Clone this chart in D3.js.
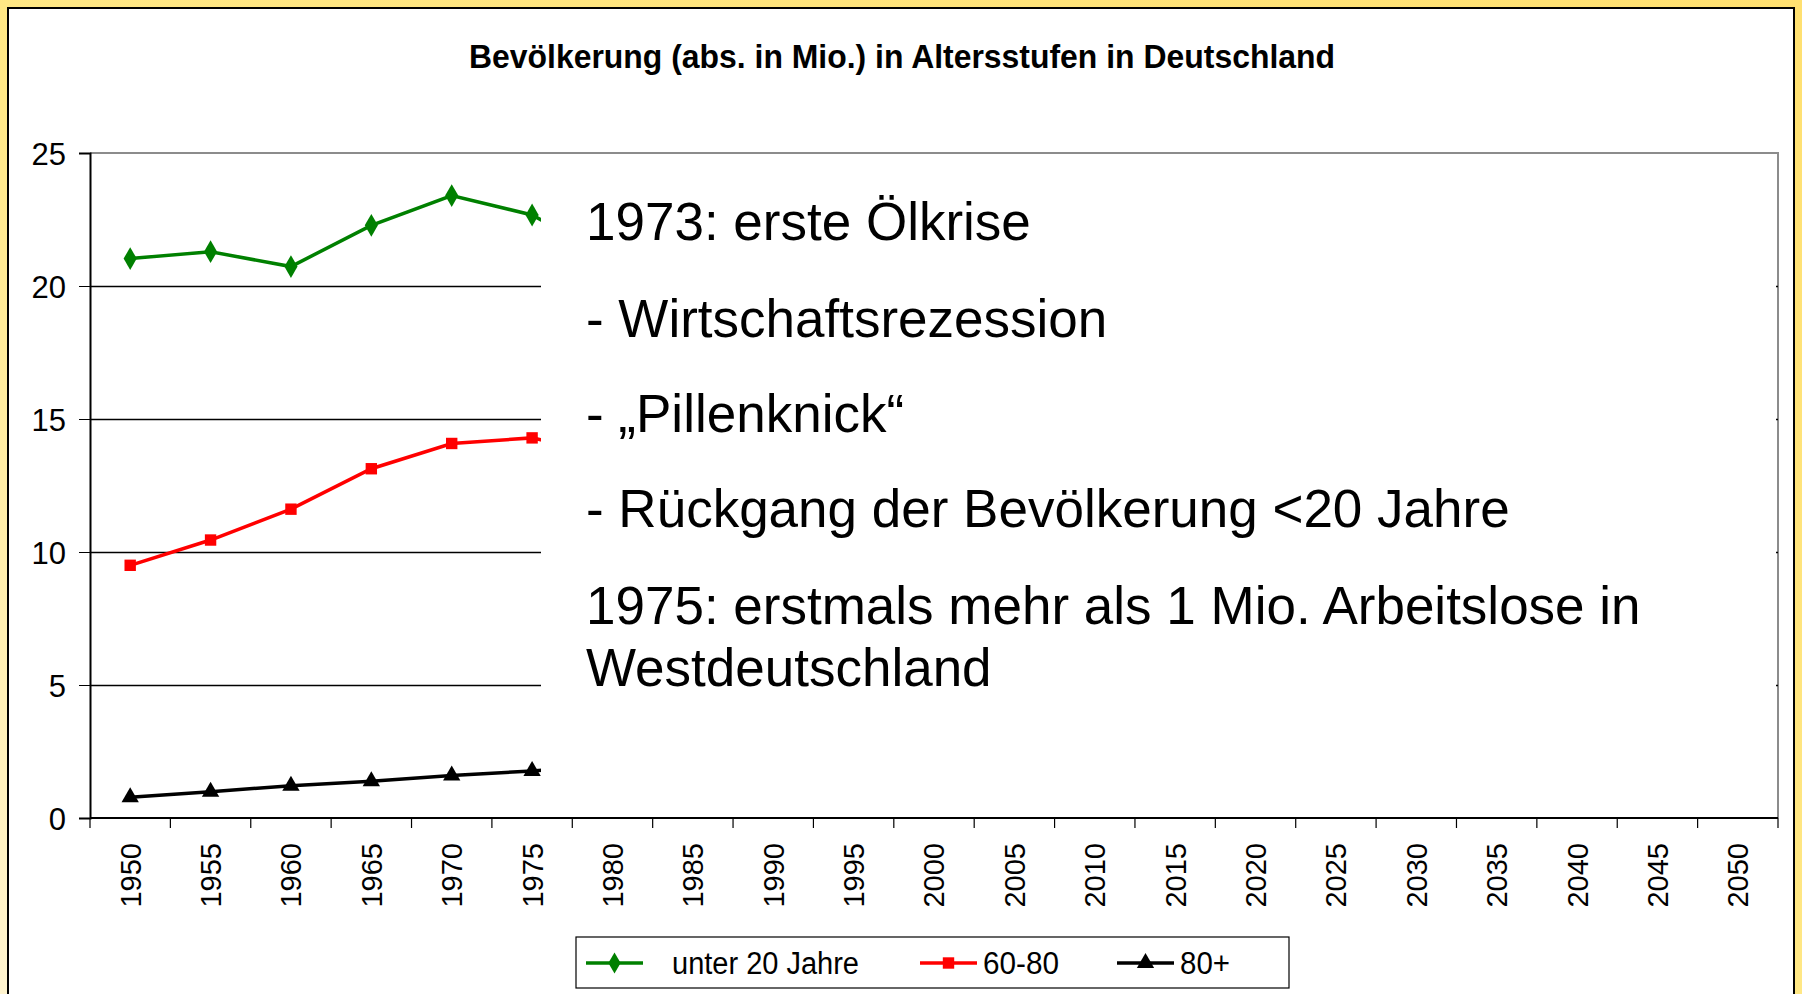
<!DOCTYPE html>
<html>
<head>
<meta charset="utf-8">
<script src="https://cdn.jsdelivr.net/npm/d3@7"></script>
<style>
  html, body { margin: 0; padding: 0; background: #fff; }
  svg { display: block; font-family: "Liberation Sans", Arial, sans-serif; }
</style>
</head>
<body>
<div id="chart"></div>
<script>
/* global d3 */

var WIDTH = 1802;
var HEIGHT = 994;

// categories: every 5 years from 1950 to 2050
var years = ['1950', '1955', '1960', '1965', '1970', '1975', '1980', '1985', '1990', '1995',
  '2000', '2005', '2010', '2015', '2020', '2025', '2030', '2035', '2040', '2045', '2050'];

// values in millions (1980 only shows as a stub under the text box)
var dataYears = ['1950', '1955', '1960', '1965', '1970', '1975', '1980'];
var under20 = [21.03, 21.29, 20.73, 22.28, 23.40, 22.67, 21.0];
var age60to80 = [9.50, 10.45, 11.61, 13.13, 14.08, 14.29, 13.6];
var age80plus = [0.78, 0.99, 1.21, 1.38, 1.60, 1.77, 2.0];

var yTicks = [0, 5, 10, 15, 20, 25];

var seriesNames = ['unter 20 Jahre', '60-80', '80+'];
var seriesColors = ['#008000', '#ff0000', '#000000'];
var seriesSymbols = [d3.symbolDiamond, d3.symbolSquare, d3.symbolTriangle];

var notes = [
  '1973: erste Ölkrise',
  '- Wirtschaftsrezession',
  '- \u201EPillenknick\u201C',
  '- Rückgang der Bevölkerung <20 Jahre',
  '1975: erstmals mehr als 1 Mio. Arbeitslose in',
  'Westdeutschland'
];

var margin = { left: 90, right: 24, top: 153, bottom: 176 };

var svg = d3.select('#chart')
  .append('svg')
  .attr('width', WIDTH)
  .attr('height', HEIGHT);

// yellow frame with gradient
var defs = svg.append('defs');
var grad = defs.append('linearGradient')
  .attr('id', 'frame')
  .attr('x1', '100%').attr('y1', '0%')
  .attr('x2', '0%').attr('y2', '100%');
grad.append('stop').attr('offset', '0%').attr('stop-color', '#ffe070');
grad.append('stop').attr('offset', '55%').attr('stop-color', '#ffe887');
grad.append('stop').attr('offset', '100%').attr('stop-color', '#fff4cf');

svg.append('rect')
  .attr('width', WIDTH)
  .attr('height', HEIGHT)
  .attr('fill', 'url(#frame)');

svg.append('rect')
  .attr('x', 8)
  .attr('y', 8)
  .attr('width', WIDTH - 16)
  .attr('height', HEIGHT)
  .attr('fill', '#fff')
  .attr('stroke', '#000')
  .attr('stroke-width', 2);

svg.append('text')
  .attr('x', 902)
  .attr('y', 68)
  .attr('text-anchor', 'middle')
  .attr('font-weight', 'bold')
  .attr('font-size', '33px')
  .attr('textLength', 866)
  .attr('lengthAdjust', 'spacingAndGlyphs')
  .text('Bevölkerung (abs. in Mio.) in Altersstufen in Deutschland');

var x = d3.scaleBand()
  .domain(years)
  .range([margin.left, WIDTH - margin.right])
  .padding(0);

var y = d3.scaleLinear()
  .domain([0, 25])
  .range([HEIGHT - margin.bottom, margin.top]);

var plotRight = WIDTH - margin.right;
var textBoxLeft = 541;

// plot frame (gray top and right)
svg.append('path')
  .attr('d', 'M' + margin.left + ',' + y(25) + 'H' + plotRight + 'V' + y(0))
  .attr('fill', 'none')
  .attr('stroke', '#8c8c8c')
  .attr('stroke-width', 2);

// gridlines
svg.append('g')
  .selectAll('line')
  .data(yTicks.filter(function(d) { return d > 0 && d < 25; }))
  .enter()
  .append('line')
  .attr('x1', margin.left)
  .attr('x2', plotRight)
  .attr('y1', function(d) { return Math.round(y(d)) + 0.5; })
  .attr('y2', function(d) { return Math.round(y(d)) + 0.5; })
  .attr('stroke', '#000')
  .attr('stroke-width', 1.3);

// series
var series = [under20, age60to80, age80plus];
var lineGen = d3.line()
  .x(function(d, i) { return x(dataYears[i]) + x.bandwidth() / 2; })
  .y(function(d) { return y(d); });

series.forEach(function(values, k) {
  var g = svg.append('g');
  g.append('path')
    .datum(values)
    .attr('d', lineGen)
    .attr('fill', 'none')
    .attr('stroke', seriesColors[k])
    .attr('stroke-width', 3.5);

  g.selectAll('path.marker')
    .data(values)
    .enter()
    .append('path')
    .attr('class', 'marker')
    .attr('d', d3.symbol().type(seriesSymbols[k]).size(k === 0 ? 150 : 130))
    .attr('transform', function(d, i) {
      return 'translate(' + (x(dataYears[i]) + x.bandwidth() / 2) + ',' + y(d) + ')';
    })
    .attr('fill', seriesColors[k]);
});

// white text box over the right part of the plot
svg.append('rect')
  .attr('x', textBoxLeft)
  .attr('y', y(25) + 2)
  .attr('width', plotRight - textBoxLeft - 2)
  .attr('height', y(0) - y(25) - 4)
  .attr('fill', '#fff');

var noteBaselines = [240, 337, 432, 527, 624, 686];
svg.append('g')
  .selectAll('text')
  .data(notes)
  .enter()
  .append('text')
  .attr('x', 586)
  .attr('y', function(d, i) { return noteBaselines[i]; })
  .attr('font-size', '53px')
  .attr('fill', '#000')
  .text(function(d) { return d; });

// y axis
var yAxis = d3.axisLeft(y)
  .tickValues(yTicks)
  .tickSize(11)
  .tickPadding(13)
  .tickFormat(d3.format('d'));

svg.append('g')
  .attr('transform', 'translate(' + margin.left + ',0)')
  .call(yAxis)
  .call(function(g) {
    g.select('.domain').attr('stroke', '#000').attr('stroke-width', 2);
    g.selectAll('.tick text')
      .attr('font-size', '31px')
      .attr('font-family', '"Liberation Sans", Arial, sans-serif')
      .attr('fill', '#000')
      .attr('dy', '0.36em');
    g.selectAll('.tick line').attr('stroke', '#000');
  });

// x axis: ticks between categories
var xg = svg.append('g')
  .attr('transform', 'translate(0,' + y(0) + ')');

xg.append('line')
  .attr('x1', margin.left)
  .attr('x2', plotRight)
  .attr('stroke', '#000')
  .attr('stroke-width', 2);

xg.selectAll('line.tick')
  .data(years.concat(['end']))
  .enter()
  .append('line')
  .attr('class', 'tick')
  .attr('x1', function(d) { return d === 'end' ? plotRight : x(d); })
  .attr('x2', function(d) { return d === 'end' ? plotRight : x(d); })
  .attr('y1', 0)
  .attr('y2', 10)
  .attr('stroke', '#000')
  .attr('stroke-width', 1.2);

xg.selectAll('text')
  .data(years)
  .enter()
  .append('text')
  .attr('transform', function(d) {
    return 'translate(' + (x(d) + x.bandwidth() / 2) + ',25) rotate(-90)';
  })
  .attr('text-anchor', 'end')
  .attr('dy', '0.36em')
  .attr('font-size', '29px')
  .attr('fill', '#000')
  .text(function(d) { return d; });

// legend
var legend = svg.append('g');
legend.append('rect')
  .attr('x', 576)
  .attr('y', 937)
  .attr('width', 713)
  .attr('height', 51)
  .attr('fill', '#fff')
  .attr('stroke', '#000')
  .attr('stroke-width', 1.2);

var legendLineX = [586, 920, 1117];
var legendTextX = [672, 983, 1180];
var legendTextW = [187, 76, 50];
var legendY = 963;

seriesNames.forEach(function(name, k) {
  legend.append('line')
    .attr('x1', legendLineX[k])
    .attr('x2', legendLineX[k] + 57)
    .attr('y1', legendY)
    .attr('y2', legendY)
    .attr('stroke', seriesColors[k])
    .attr('stroke-width', 3.5);
  legend.append('path')
    .attr('d', d3.symbol().type(seriesSymbols[k]).size(130))
    .attr('transform', 'translate(' + (legendLineX[k] + 28.5) + ',' + legendY + ')')
    .attr('fill', seriesColors[k]);
  legend.append('text')
    .attr('x', legendTextX[k])
    .attr('y', legendY)
    .attr('dy', '0.36em')
    .attr('font-size', '31px')
    .attr('textLength', legendTextW[k])
    .attr('lengthAdjust', 'spacingAndGlyphs')
    .attr('fill', '#000')
    .text(name);
});
</script>
</body>
</html>
